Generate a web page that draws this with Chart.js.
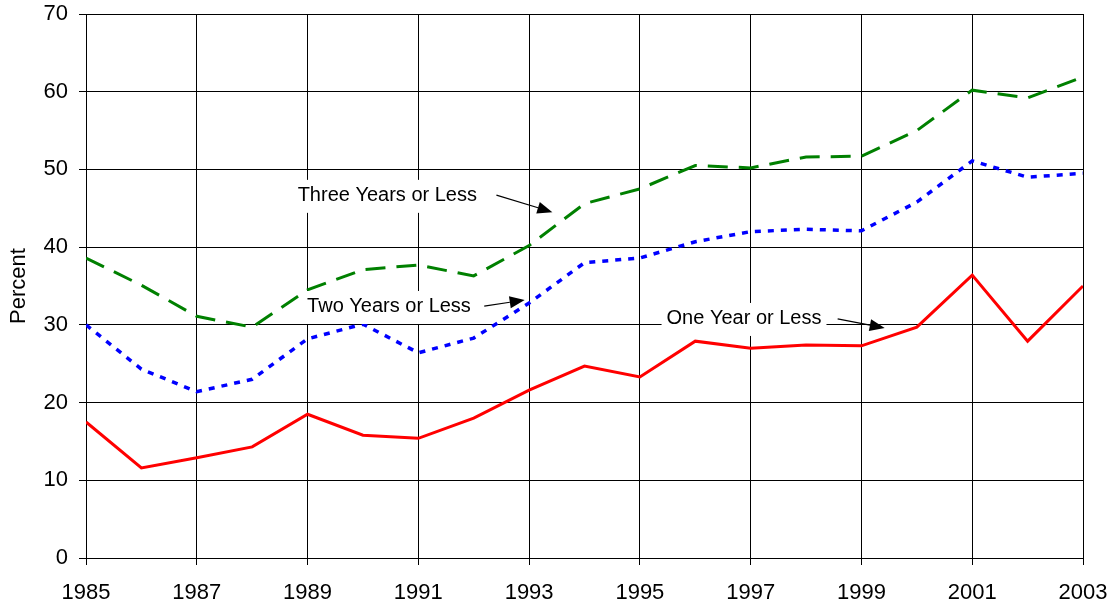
<!DOCTYPE html>
<html>
<head>
<meta charset="utf-8">
<script src="https://cdn.jsdelivr.net/npm/chart.js@4/dist/chart.umd.min.js"></script>
<style>
  html, body { margin: 0; padding: 0; background: #fff; }
  #wrap { width: 1116px; height: 608px; }
</style>
</head>
<body>
<div id="wrap"><canvas id="chart"></canvas></div>
<script>
// Years on the x axis
var years = [1985, 1986, 1987, 1988, 1989, 1990, 1991, 1992, 1993, 1994,
             1995, 1996, 1997, 1998, 1999, 2000, 2001, 2002, 2003];

// Percent values per series
var oneYearOrLess = [17.5, 11.6, 12.9, 14.3, 18.5, 15.8, 15.4, 18.0, 21.6, 24.7,
                     23.3, 27.9, 27.0, 27.4, 27.3, 29.7, 36.4, 27.9, 35.0];
var twoYearsOrLess = [30.0, 24.3, 21.4, 23.0, 28.2, 30.1, 26.4, 28.3, 32.8, 38.0,
                      38.6, 40.7, 42.0, 42.3, 42.1, 45.8, 51.1, 49.0, 49.5];
var threeYearsOrLess = [38.6, 35.1, 31.1, 29.7, 34.5, 37.1, 37.7, 36.3, 40.2, 45.6,
                        47.5, 50.5, 50.2, 51.6, 51.7, 55.0, 60.2, 59.2, 61.9];

var seriesNames = ["One Year or Less", "Two Years or Less", "Three Years or Less"];

function points(values) {
    return values.map(function(v, i) { return { x: years[i], y: v }; });
}

//Callout labels with arrows (in data units)
var callouts = [
    { text: "Three Years or Less", at: [1990.44, 46.6], from: [1992.41, 46.7], to: [1993.42, 44.5] },
    { text: "Two Years or Less", at: [1990.47, 32.3], from: [1992.19, 32.4], to: [1992.92, 33.2] },
    { text: "One Year or Less", at: [1996.88, 30.76], from: [1998.57, 30.76], to: [1999.42, 29.6] }
];

var calloutPlugin = {
    id: "callouts",
    afterDatasetsDraw: function(chart) {
        var ctx = chart.ctx;
        var xs = chart.scales.x, ys = chart.scales.y;
        ctx.save();
        ctx.font = "20px 'Liberation Sans', Arial, sans-serif";
        ctx.textAlign = "center";
        ctx.textBaseline = "middle";
        callouts.forEach(function(c) {
            var cx = xs.getPixelForValue(c.at[0]);
            var cy = ys.getPixelForValue(c.at[1]);
            var w = ctx.measureText(c.text).width;
            ctx.fillStyle = "#fff";
            ctx.fillRect(cx - w / 2 - 5, cy - 16, w + 10, 33);
            ctx.fillStyle = "#000";
            ctx.fillText(c.text, cx, cy);

            // arrow
            var x1 = xs.getPixelForValue(c.from[0]), y1 = ys.getPixelForValue(c.from[1]);
            var x2 = xs.getPixelForValue(c.to[0]), y2 = ys.getPixelForValue(c.to[1]);
            var ang = Math.atan2(y2 - y1, x2 - x1);
            var hl = 15, hw = 6;
            var bx = x2 - hl * Math.cos(ang), by = y2 - hl * Math.sin(ang);
            ctx.strokeStyle = "#000";
            ctx.lineWidth = 1.2;
            ctx.beginPath();
            ctx.moveTo(x1, y1);
            ctx.lineTo(bx, by);
            ctx.stroke();
            ctx.beginPath();
            ctx.moveTo(x2, y2);
            ctx.lineTo(bx + hw * Math.sin(ang), by - hw * Math.cos(ang));
            ctx.lineTo(bx - hw * Math.sin(ang), by + hw * Math.cos(ang));
            ctx.closePath();
            ctx.fill();
        });
        ctx.restore();
    }
};

var font = { family: "'Liberation Sans', Arial, sans-serif", size: 22 };

var chart = new Chart(document.getElementById("chart"), {
    type: "line",
    data: {
        datasets: [
            {
                label: seriesNames[2],
                data: points(threeYearsOrLess),
                borderColor: "#008000",
                backgroundColor: "#008000",
                borderWidth: 3,
                borderDash: [20, 11],
                fill: false,
                tension: 0,
                pointRadius: 0
            },
            {
                label: seriesNames[1],
                data: points(twoYearsOrLess),
                borderColor: "#0000ff",
                backgroundColor: "#0000ff",
                borderWidth: 3.5,
                borderDash: [6, 7],
                fill: false,
                tension: 0,
                pointRadius: 0
            },
            {
                label: seriesNames[0],
                data: points(oneYearOrLess),
                borderColor: "#ff0000",
                backgroundColor: "#ff0000",
                borderWidth: 3,
                fill: false,
                tension: 0,
                pointRadius: 0
            }
        ]
    },
    options: {
        responsive: true,
        maintainAspectRatio: false,
        animation: false,
        layout: { padding: { top: 14, right: 33, left: 0, bottom: 0 } },
        plugins: {
            legend: { display: false },
            tooltip: { enabled: false }
        },
        scales: {
            x: {
                type: "linear",
                min: 1985,
                max: 2003,
                ticks: {
                    stepSize: 2,
                    color: "#000",
                    font: font,
                    padding: 15,
                    maxRotation: 0,
                    callback: function(v) { return String(v); }
                },
                grid: { color: "#000", lineWidth: 1, tickLength: 7 },
                border: { color: "#000", width: 1 },
                afterFit: function(scale) {
                    scale.height = 50;
                    scale.paddingLeft = 0;
                    scale.paddingRight = 0;
                }
            },
            y: {
                min: 0,
                max: 70,
                ticks: { stepSize: 10, color: "#000", font: font, padding: 11 },
                grid: { color: "#000", lineWidth: 1, tickLength: 7 },
                border: { color: "#000", width: 1 },
                title: {
                    display: true,
                    text: "Percent",
                    color: "#000",
                    font: font,
                    padding: { top: 6, bottom: 0 }
                },
                afterFit: function(scale) {
                    scale.width = 86;
                    scale.paddingTop = 0;
                    scale.paddingBottom = 0;
                }
            }
        }
    },
    plugins: [calloutPlugin]
});
</script>
</body>
</html>
